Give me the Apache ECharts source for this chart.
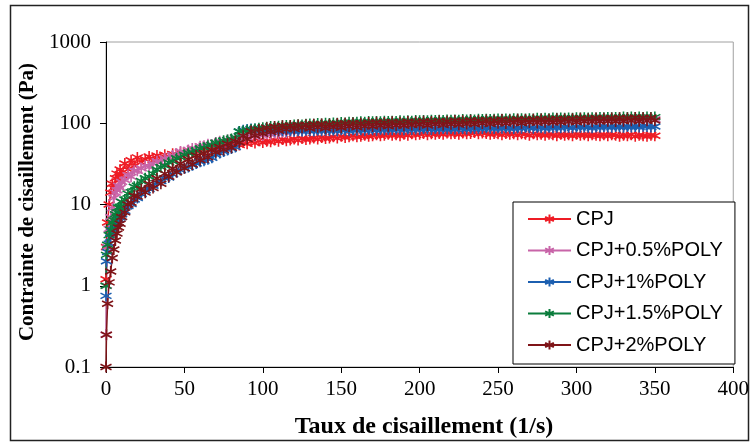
<!DOCTYPE html>
<html>
<head>
<meta charset="utf-8">
<script src="https://cdn.jsdelivr.net/npm/echarts@6/dist/echarts.min.js"></script>
<style>html,body{margin:0;padding:0;background:#fff;}#c{width:752px;height:443px;}</style>
</head>
<body>
<div id="c"></div>
<script>
// Shear rate (1/s): 16 low-rate points, then every 2.5 from 20 to 350
const shearRate = [0,0.3,1,2,3,4,5,6,7,8,9,10,12,14,16,18,
 20,22.5,25,27.5,30,32.5,35,37.5,40,42.5,
 45,47.5,50,52.5,55,57.5,60,62.5,65,67.5,
 70,72.5,75,77.5,80,82.5,85,87.5,90,92.5,
 95,97.5,100,102.5,105,107.5,110,112.5,115,117.5,
 120,122.5,125,127.5,130,132.5,135,137.5,140,142.5,
 145,147.5,150,152.5,155,157.5,160,162.5,165,167.5,
 170,172.5,175,177.5,180,182.5,185,187.5,190,192.5,
 195,197.5,200,202.5,205,207.5,210,212.5,215,217.5,
 220,222.5,225,227.5,230,232.5,235,237.5,240,242.5,
 245,247.5,250,252.5,255,257.5,260,262.5,265,267.5,
 270,272.5,275,277.5,280,282.5,285,287.5,290,292.5,
 295,297.5,300,302.5,305,307.5,310,312.5,315,317.5,
 320,322.5,325,327.5,330,332.5,335,337.5,340,342.5,
 345,347.5,350];
// Shear stress (Pa)
const cpj = [1.2,3.0,6.0,10,14,18,16,21,24,20,27,23,32,27,35,30,
 38,33,36,39,35,40,37,41,38,42,
 39,44,41,46,43,48,45,50,47,51,
 49,53,51,55,53,56,54,58,56,60,
 57,61,58,60,59,62,60,63,61,62,
 64,62,65,63,64,66,64,67,65,66,
 68,66,69,67,68,70,68,69,71,69,
 70,72,70,71,73,71,72,70,73,71,
 74,72,73,75,72,74,73,75,73,76,
 74,75,73,76,74,75,77,74,76,75,
 73,75,74,72,75,73,74,72,74,73,
 71,74,72,73,71,73,72,70,73,71,
 72,70,73,71,72,70,72,71,70,72,
 70,72,71,69,71,70,72,69,71,70,
 69,71,70];
const cpj05 = [0.25,1.0,3.0,5.0,7.0,9.0,12,14,15,17,16,19,20,23,22,26,
 26,28,30,29,32,34,33,37,38,40,
 42,45,44,47,49,48,52,53,55,54,
 58,60,59,62,63,65,64,68,67,70,
 69,72,71,74,73,76,75,78,77,80,
 79,82,81,83,84,83,86,85,87,86,
 88,87,89,90,89,91,90,92,91,93,
 92,93,94,93,95,94,96,95,96,97,
 96,97,98,97,99,98,99,100,99,100,
 101,100,101,102,101,102,103,102,103,104,
 103,104,103,105,104,105,104,106,105,106,
 105,106,107,106,107,106,108,107,108,107,
 108,107,109,108,109,108,110,109,110,109,
 110,109,111,110,111,110,112,111,112,111,
 112,111,112];
const cpj1 = [0.75,2.0,2.6,3.3,3.9,4.6,4.9,5.6,5.9,6.6,6.9,7.6,8.3,9.6,10.1,11.5,
 12,13.5,15,15.5,17,18.5,19.5,21,21.5,23.5,
 25.5,26.5,28,29,30.5,32,33.5,34.5,36,37.5,
 41,43,45,47,49,51,79,82,84,85,
 85,84,83,82,82,81,80,81,80,81,
 80,81,80,82,81,80,82,81,82,81,
 82,81,83,82,81,83,82,83,82,84,
 83,82,84,83,84,83,85,84,83,85,
 84,85,84,86,85,84,86,85,86,85,
 86,85,87,86,85,87,86,87,86,88,
 87,86,88,87,88,87,86,88,87,89,
 88,87,89,88,87,89,88,89,88,90,
 89,88,90,89,90,89,88,90,89,91,
 90,89,91,90,89,91,90,91,90,92,
 91,90,91];
const cpj15 = [1.0,2.4,3.2,4.2,4.9,6.0,6.4,7.6,8.0,9.2,9.4,10.8,11.5,13.6,14.2,16.5,
 17,19.5,21,22,24,27,29,30,33,34,
 37,38,41,43,44,46,49,50,53,54,
 57,58,61,62,64,67,79,80,82,84,
 85,87,88,89,91,90,92,93,94,93,
 95,96,95,97,98,97,99,98,100,99,
 101,100,102,101,103,102,103,104,103,105,
 104,105,104,106,105,106,105,107,106,107,
 106,108,107,108,107,109,108,109,108,110,
 109,110,109,111,110,111,110,112,111,112,
 111,112,113,112,113,112,114,113,114,113,
 114,113,115,114,115,114,116,115,116,115,
 116,115,117,116,117,116,117,116,118,117,
 118,117,118,117,119,118,119,118,119,118,
 119,118,119];
const cpj2 = [0.1,0.25,0.6,1.1,1.5,2.2,2.8,3.6,4.4,5.2,5.8,7.0,8.0,10.0,10.5,12.8,
 12.5,15.5,14,18,16,21,18,24,22,28,
 25,32,28,36,31,40,35,43,38,47,
 44,51,47,56,50,60,58,70,64,80,
 70,84,74,88,78,91,81,93,84,94,
 85,95,88,96,86,97,89,98,87,97,
 90,99,88,100,91,101,89,100,92,102,
 91,103,93,102,92,104,94,103,93,105,
 95,104,96,106,94,105,97,107,95,106,
 97,108,96,107,98,109,97,108,99,110,
 98,109,100,111,99,110,101,112,100,111,
 102,112,101,113,103,112,102,114,103,113,
 104,114,103,115,105,114,104,116,105,115,
 106,116,105,117,106,116,107,118,106,117,
 107,117,108];

const seriesNames = ['CPJ','CPJ+0.5%POLY','CPJ+1%POLY','CPJ+1.5%POLY','CPJ+2%POLY'];
const seriesValues = [cpj, cpj05, cpj1, cpj15, cpj2];
const seriesColors = ['#ee1c25','#c864a8','#1c5fb0','#0b7d3c','#7f1418'];
const xTitle = 'Taux de cisaillement (1/s)';
const yTitle = 'Contrainte de cisaillement (Pa)';

const star = 'path://M5 0L5 10M0.7 2.5L9.3 7.5M0.7 7.5L9.3 2.5';

const chart = echarts.init(document.getElementById('c'), null, {renderer:'canvas'});
chart.setOption({
  animation: false,
  backgroundColor: '#fff',
  grid: {left: 106, top: 42, right: 14, bottom: 76, show: true, borderColor: '#a0a0a0', borderWidth: 1, backgroundColor: 'transparent'},
  xAxis: {
    type: 'value', min: 0, max: 400, interval: 50,
    axisLine: {show: true, onZero: false, lineStyle: {color: '#000', width: 1}},
    axisTick: {show: true, length: 6, lineStyle: {color: '#000'}},
    axisLabel: {fontFamily: 'Liberation Serif', fontSize: 21, color: '#000', margin: 12},
    splitLine: {show: false}
  },
  yAxis: {
    type: 'log', logBase: 10, min: 0.1, max: 1000,
    axisLine: {show: true, lineStyle: {color: '#000', width: 1}},
    axisTick: {show: true, length: 6, lineStyle: {color: '#000'}},
    minorTick: {show: false},
    axisLabel: {fontFamily: 'Liberation Serif', fontSize: 21, color: '#000', margin: 15,
      formatter: v => String(Math.round(v * 10) / 10)},
    splitLine: {show: false}
  },
  legend: {
    orient: 'vertical', left: 513, top: 202,
    padding: [7, 12, 9, 14], itemGap: 11.5,
    itemWidth: 43, itemHeight: 11,
    backgroundColor: '#fff', borderColor: '#000', borderWidth: 1,
    textStyle: {fontFamily: 'Liberation Sans', fontSize: 20, color: '#000'},
    data: seriesNames
  },
  graphic: [
    {type: 'rect', z: -10, silent: true, shape: {x: 10.5, y: 5.5, width: 738, height: 435},
     style: {fill: 'none', stroke: '#222', lineWidth: 1.5}},
    {type: 'text', x: 424, y: 427, silent: true,
     style: {text: xTitle, font: 'bold 24px "Liberation Serif"', fill: '#000', textAlign: 'center', textVerticalAlign: 'middle'}},
    {type: 'text', x: 28, y: 202, rotation: Math.PI / 2, silent: true,
     style: {text: yTitle, font: 'bold 21px "Liberation Serif"', fill: '#000', textAlign: 'center', textVerticalAlign: 'middle'}}
  ],
  series: seriesNames.map((name, i) => ({
    name: name, type: 'line',
    data: shearRate.map((x, j) => [x, seriesValues[i][j]]),
    symbol: star, symbolSize: 11, showAllSymbol: true, clip: false,
    lineStyle: {color: seriesColors[i], width: 1.5},
    itemStyle: {color: seriesColors[i], borderColor: seriesColors[i], borderWidth: 1.6},
    emphasis: {disabled: true}
  }))
});
</script>
</body>
</html>
